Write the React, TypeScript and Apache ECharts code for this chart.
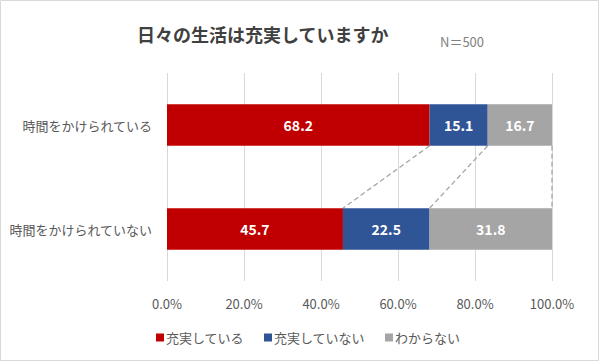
import React, { useEffect, useRef } from "react";
import * as echarts from "echarts";

const categories = ["時間をかけられている", "時間をかけられていない"];
const seriesNames = ["充実している", "充実していない", "わからない"];
const satisfied = [68.2, 45.7];
const notSatisfied = [15.1, 22.5];
const unknown = [16.7, 31.8];
const xTicks = [0, 20, 40, 60, 80, 100];
const colors = ["#C00000", "#2F5597", "#A5A5A5"];

const FONT = "'Noto Sans CJK JP', 'Noto Sans', sans-serif";

export default function App() {
  const ref = useRef<HTMLDivElement>(null);
  useEffect(() => {
    if (!ref.current) return;
    const chart = echarts.init(ref.current, null, { renderer: "svg" });
    const stacks = [satisfied, notSatisfied, unknown];
    const cum = (row: number) => {
      const out: number[] = [];
      let s = 0;
      for (let i = 0; i < stacks.length; i++) {
        s += stacks[i][row];
        out.push(Math.round(s * 10) / 10);
      }
      return out;
    };
    const top = cum(0);
    const bottom = cum(1);
    const connectors = top.map((v, i) => [v, bottom[i], 0]);

    const barSeries = stacks.map((d, i) => ({
      name: seriesNames[i],
      type: "bar",
      stack: "total",
      barWidth: "40%",
      data: d,
      itemStyle: { color: colors[i] },
      label: {
        show: true,
        position: "inside",
        color: "#ffffff",
        fontWeight: "bold",
        fontSize: 14,
        fontFamily: FONT,
        formatter: (p: any) => p.value.toFixed(1),
      },
    }));

    chart.setOption({
      animation: false,
      backgroundColor: "#ffffff",
      textStyle: { fontFamily: FONT },
      title: {
        text: "日々の生活は充実していますか",
        left: 132,
        top: 20,
        textStyle: { fontSize: 18, fontWeight: "bold", color: "#404040", fontFamily: FONT },
      },
      graphic: [
        {
          type: "rect",
          shape: { x: 0.5, y: 0.5, width: 598, height: 360 },
          style: { fill: "none", stroke: "#d9d9d9", lineWidth: 1 },
          z: 0,
        },
        {
          type: "text",
          left: 440,
          top: 35,
          style: { text: "N＝500", fontSize: 13, fill: "#808080", fontFamily: FONT },
        },
      ],
      legend: {
        data: seriesNames,
        left: 151,
        top: 326,
        icon: "rect",
        itemWidth: 8,
        itemHeight: 8,
        itemGap: 20,
        textStyle: { fontSize: 13, color: "#595959", fontFamily: FONT, padding: [0, 0, 0, -3] },
      },
      grid: { left: 167, right: 48, top: 73, bottom: 81 },
      xAxis: {
        type: "value",
        min: xTicks[0],
        max: xTicks[xTicks.length - 1],
        interval: 20,
        axisLine: { show: false },
        axisTick: { show: false },
        splitLine: { lineStyle: { color: "#d9d9d9" } },
        axisLabel: {
          color: "#595959",
          fontSize: 13,
          margin: 16,
          fontFamily: FONT,
          formatter: (v: number) => v.toFixed(1) + "%",
        },
      },
      yAxis: {
        type: "category",
        data: categories,
        inverse: true,
        axisLine: { show: false },
        axisTick: { show: false },
        axisLabel: { color: "#595959", fontSize: 13, margin: 15, fontFamily: FONT },
      },
      series: [
        ...barSeries,
        {
          type: "custom",
          name: "connectors",
          silent: true,
          encode: { x: [0, 1], y: 2 },
          data: connectors,
          z: 1,
          renderItem: (params: any, api: any) => {
            const p1 = api.coord([api.value(0), 0]);
            const p2 = api.coord([api.value(1), 1]);
            const band = api.size([0, 1])[1];
            const half = band * 0.2;
            return {
              type: "line",
              shape: { x1: p1[0], y1: p1[1] + half, x2: p2[0], y2: p2[1] - half },
              style: { stroke: "#a6a6a6", lineWidth: 1.3, lineDash: [5, 3] },
            };
          },
        },
      ],
    });
    return () => chart.dispose();
  }, []);
  return (
    <div
      ref={ref}
      style={{ position: "fixed", left: 0, top: 0, width: 600, height: 362 }}
    />
  );
}
